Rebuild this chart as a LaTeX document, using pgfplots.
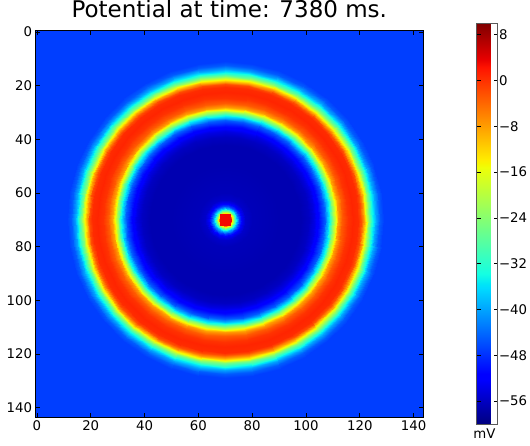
\documentclass[border=0pt]{standalone}
\usepackage{fontspec}
\setmainfont{DejaVu Sans}
\usepackage{pgfplots}
\usepackage{pgfplotstable}
\pgfplotsset{compat=1.18}

% matplotlib-like jet
\pgfplotsset{colormap={mpljet}{
  rgb(0pt)=(0,0,0.5); rgb(11pt)=(0,0,1); rgb(12.5pt)=(0,0,1);
  rgb(34pt)=(0,0.86,1); rgb(35pt)=(0,0.9,0.968); rgb(37.5pt)=(0.081,1,0.887);
  rgb(64pt)=(0.935,1,0.032); rgb(65pt)=(0.968,0.963,0); rgb(66pt)=(1,0.926,0);
  rgb(89pt)=(1,0.074,0); rgb(91pt)=(0.909,0,0); rgb(100pt)=(0.5,0,0)}}

% radial profile of the potential around the stimulus at (70,70), r in cells, v in mV
\pgfplotstableread{
r v s
0 3 0
0 3 1
2 3 0
2 3 1
2.6 -14 0
2.6 -14 1
3.3 -26 0
3.3 -26 1
4.2 -38 0
4.2 -38 1
5.2 -47 0
5.2 -47 1
6.3 -53 0
6.3 -53 1
7.5 -55.5 0
7.5 -55.5 1
10 -56.5 0
10 -56.5 1
20 -57 0
20 -57 1
28 -57 0
28 -57 1
31 -56 0
31 -56 1
33 -54 0
33 -54 1
35 -50.5 0
35 -50.5 1
37 -45 0
37 -45 1
38 -39 0
38 -39 1
39 -33 0
39 -33 1
40 -24 0
40 -24 1
41 -16 0
41 -16 1
42 -8 0
42 -8 1
43.5 -3 0
43.5 -3 1
45.5 0 0
45.5 0 1
47.5 1 0
47.5 1 1
49.5 0.5 0
49.5 0.5 1
50.5 -2 0
50.5 -2 1
51.5 -8 0
51.5 -8 1
52.5 -16 0
52.5 -16 1
53.5 -25 0
53.5 -25 1
54.7 -33 0
54.7 -33 1
56 -40 0
56 -40 1
57.5 -45 0
57.5 -45 1
59 -47 0
59 -47 1
105 -47 0
105 -47 1
}\ringprofile

\begin{document}
\begin{tikzpicture}
\path[use as bounding box] (-35.6pt,-28pt) rectangle (494.4pt,417pt);
\begin{axis}[
  at={(0,0)}, anchor=south west,
  scale only axis, width=387.4pt, height=386.5pt,
  xmin=-0.5, xmax=143.5, ymin=-0.5, ymax=143.5, y dir=reverse,
  xtick={0,20,...,140}, ytick={0,20,...,140},
  tick align=inside, major tick length=4pt,
  tick style={black, line width=0.6pt},
  axis line style={line width=0.8pt},
  ticklabel style={font=\fontsize{13.3}{14}\selectfont},
  /pgf/number format/assume math mode=true,
  title={Potential at time: 7380 ms.},
  title style={at={(0.5,1)}, anchor=base, yshift=7.2pt,
    font=\fontsize{23}{23}\selectfont},
  colormap name=mpljet,
  point meta min=-60, point meta max=10,
  axis on top,
  colorbar,
  colorbar style={
    at={(parent axis.south east)}, anchor=south west,
    xshift=45pt, yshift=-7pt,
    scale only axis, width=21pt, height=400.7pt,
    y dir=normal,
    ytick={-56,-48,...,8},
    yticklabels={−56,−48,−40,−32,−24,−16,−8,0,8},
    yticklabel pos=right,
    tick align=inside, major tick length=4pt,
    tick style={black, line width=0.6pt},
    axis line style={black!65, line width=1pt},
    yticklabel style={font=\fontsize{13.3}{14}\selectfont, xshift=-2pt},
  },
]
\pgfplotsinvokeforeach{0,10,...,350}{
  \addplot[surf, shader=interp, mesh/cols=2, point meta=explicit]
    table[x expr={70+\thisrow{r}*cos(#1+10.5*\thisrow{s})},
          y expr={70+\thisrow{r}*sin(#1+10.5*\thisrow{s})},
          meta=v] {\ringprofile};
}
% stimulus square
\addplot[surf, shader=flat, mesh/cols=2, point meta=explicit]
  table[meta=v] {
x y v
68 68 3
72 68 3
68 72 3
72 72 3
};
\end{axis}
\node[anchor=base, font=\fontsize{13.3}{14}\selectfont] at (448.9pt,-21pt) {mV};
\end{tikzpicture}
\end{document}
